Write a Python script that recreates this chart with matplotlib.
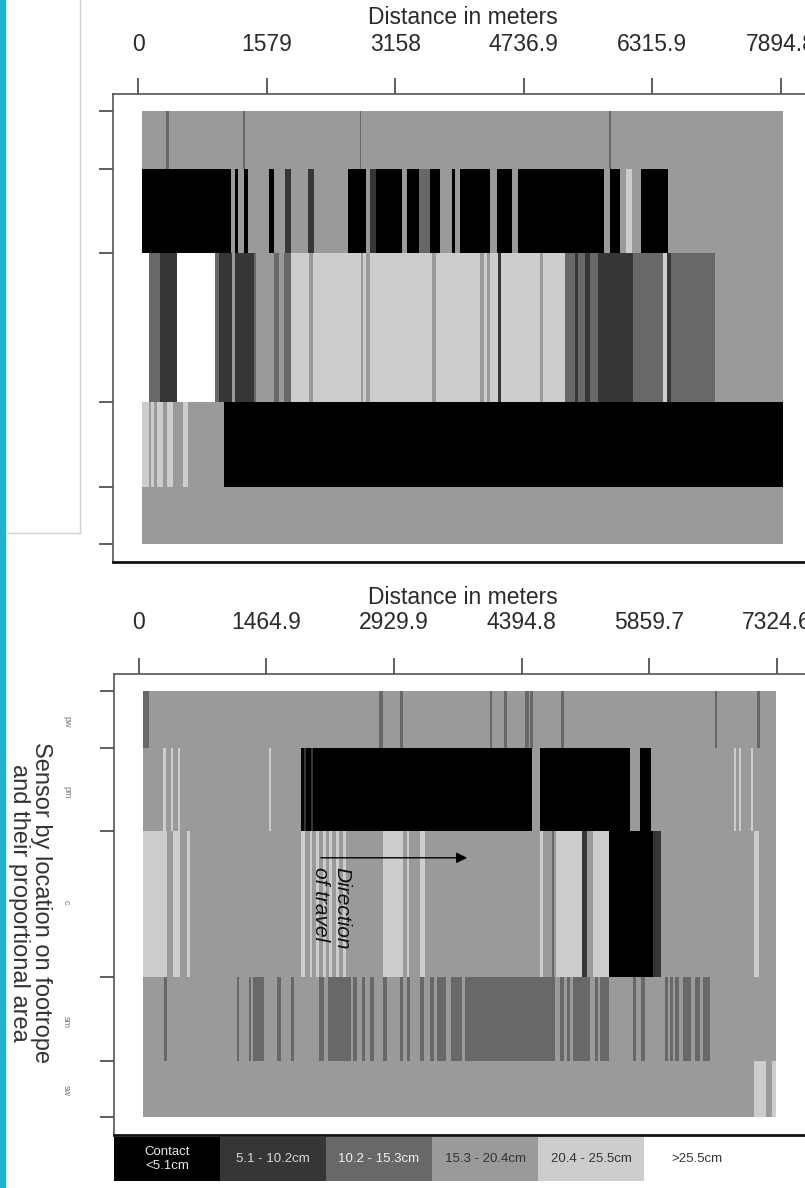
import matplotlib
matplotlib.use("Agg")
import matplotlib.pyplot as plt
from matplotlib.patches import Rectangle
from matplotlib.lines import Line2D

plt.rcParams['font.family'] = ['Liberation Sans', 'DejaVu Sans']

# gap classes (height of footrope sensor above seabed) and their grey shade
classes = ["Contact\n<5.1cm", "5.1 - 10.2cm", "10.2 - 15.3cm", "15.3 - 20.4cm", "20.4 - 25.5cm", ">25.5cm"]
shades = ["#000000", "#363636", "#686868", "#9a9a9a", "#cdcdcd", "#ffffff"]
class_text = ["#e8e8e8", "#d8d8d8", "#f0f0f0", "#333333", "#333333", "#333333"]

sensors = ["pw", "pm", "c", "sm", "sw"]
areas = [13.4, 19.4, 34.4, 19.6, 13.2]  # proportional area of each sensor

# tow 1 - x ticks
tow1_ticks = [0, 1579, 3158, 4736.9, 6315.9, 7894.8]
tow1_labels = ["0", "1579", "3158", "4736.9", "6315.9", "7894.8"]

# segments (start m, end m, class index), later ones drawn on top
tow1_pw = [(49, 7921, 3), (344, 381, 2), (1289, 1314, 2), (2726, 2738, 2), (5784, 5808, 2)]
tow1_pm = [(49, 1142, 0), (1142, 1191, 3), (1191, 1228, 0), (1228, 1302, 3), (1302, 1351, 0),
           (1351, 1609, 3), (1609, 1670, 0), (1670, 1805, 3), (1805, 1879, 1), (1879, 2088, 3),
           (2088, 2161, 1), (2161, 2579, 3), (2579, 2800, 0), (2800, 2849, 3), (2849, 2923, 1),
           (2923, 3242, 0), (3242, 3303, 3), (3303, 3451, 0), (3451, 3586, 2), (3586, 3709, 0),
           (3709, 3856, 3), (3856, 3893, 0), (3893, 3954, 3), (3954, 4323, 0), (4323, 4409, 3),
           (4409, 4593, 0), (4593, 4666, 3), (4666, 5722, 0), (5722, 5796, 3), (5796, 5919, 0),
           (5919, 5993, 3), (5993, 6066, 4), (6066, 6177, 3), (6177, 6508, 0), (6508, 7921, 3)]
tow1_c = [(49, 135, 5), (135, 270, 2), (270, 479, 1), (479, 946, 5), (946, 995, 2), (995, 1154, 1),
          (1154, 1191, 3), (1191, 1424, 1), (1424, 1449, 2), (1449, 1670, 3), (1670, 1731, 2),
          (1731, 1793, 3), (1793, 1879, 2), (1879, 2100, 4), (2100, 2149, 3), (2149, 5244, 4),
          (2738, 2763, 3), (2800, 2849, 3), (3610, 3659, 3), (4200, 4249, 3), (4286, 4323, 3),
          (4421, 4458, 1), (4937, 4973, 3), (5244, 5366, 2), (5366, 5403, 1), (5403, 5489, 2),
          (5489, 5551, 1), (5551, 5649, 2), (5649, 6079, 1), (6079, 6447, 2), (6447, 6496, 4),
          (6496, 6545, 1), (6545, 7086, 2), (7086, 7921, 3)]
tow1_sm = [(49, 135, 4), (135, 160, 3), (160, 196, 4), (196, 233, 3), (233, 307, 4), (307, 356, 3),
           (356, 430, 4), (430, 553, 3), (553, 614, 4), (614, 1056, 3), (1056, 7921, 0)]
tow1_sw = [(49, 7921, 3)]

# tow 2
tow2_ticks = [0, 1464.9, 2929.9, 4394.8, 5859.7, 7324.6]
tow2_labels = ["0", "1464.9", "2929.9", "4394.8", "5859.7", "7324.6"]

tow2_pw = [(50, 7311, 3), (50, 119, 2), (2758, 2804, 2), (2999, 3033, 2), (4030, 4053, 2),
           (4191, 4225, 2), (4432, 4478, 2), (4489, 4524, 2), (4845, 4879, 2), (6611, 6634, 2),
           (7093, 7127, 2)]
tow2_pm = [(50, 7311, 3), (280, 314, 4), (372, 395, 4), (452, 475, 4), (1496, 1519, 4),
           (1863, 4512, 0), (1897, 1920, 1), (1977, 2000, 1), (4604, 5637, 0), (5752, 5878, 0),
           (6829, 6852, 4), (6886, 6909, 4), (7024, 7047, 4)]
tow2_c = [(50, 7311, 3), (50, 326, 4), (395, 475, 4), (555, 590, 4), (1863, 1909, 4), (1966, 1989, 4),
          (2035, 2069, 4), (2115, 2150, 4), (2184, 2218, 4), (2264, 2299, 4), (2345, 2380, 4),
          (2804, 3033, 4), (3079, 3102, 4), (3228, 3285, 4), (4604, 4638, 4), (4742, 4765, 2),
          (4788, 5086, 4), (5086, 5144, 1), (5213, 5396, 4), (5396, 5901, 0), (5901, 5992, 1),
          (7059, 7116, 4)]
tow2_sm = [(50, 7311, 3), (291, 326, 2), (1129, 1152, 2), (1266, 1289, 2), (1312, 1438, 2),
           (1588, 1633, 2), (1748, 1782, 2), (2069, 2127, 2), (2172, 2437, 2), (2460, 2506, 2),
           (2563, 2598, 2), (2655, 2701, 2), (2804, 2850, 2), (2999, 3033, 2), (3079, 3113, 2),
           (3228, 3274, 2), (3342, 3388, 2), (3423, 3526, 2), (3583, 3709, 2), (3744, 4776, 2),
           (4834, 4879, 2), (4914, 4948, 2), (4983, 5178, 2), (5235, 5270, 2), (5293, 5396, 2),
           (5671, 5706, 2), (5763, 5809, 2), (6038, 6072, 2), (6095, 6130, 2), (6153, 6199, 2),
           (6244, 6336, 2), (6382, 6439, 2), (6474, 6554, 2)]
tow2_sw = [(50, 7311, 3), (7059, 7196, 4), (7265, 7311, 4)]

W, H = 805, 1188
fig = plt.figure(figsize=(W / 100, H / 100), dpi=100)
fig.patch.set_facecolor("white")


def px_rect(l, t, r, b):
    return [l / W, 1 - b / H, (r - l) / W, (b - t) / H]


bounds = [sum(areas[:i]) for i in range(len(areas) + 1)]
centers = [bounds[i] + areas[i] / 2 for i in range(len(areas))]


def strip_panel(rect, rows, ticks, labels, xlim, show_names, tick_pad, title_pad):
    ax = fig.add_axes(rect)
    for i, row in enumerate(rows):
        for s, e, c in row:
            ax.barh(centers[i], e - s, left=s, height=areas[i], color=shades[c],
                    linewidth=0, antialiased=False)
    ax.set_xlim(*xlim)
    ax.set_ylim(104.2, -3.9)
    ax.xaxis.tick_top()
    ax.set_xticks(ticks)
    ax.set_xticklabels(labels)
    ax.tick_params(axis='x', length=11.5, width=1.2, color='#444', pad=tick_pad,
                   labelsize=16.5, labelcolor='#2a2a2a')
    ax.xaxis.set_label_position('top')
    ax.set_xlabel("Distance in meters", fontsize=16.5, labelpad=title_pad, color='#2a2a2a')
    ax.set_yticks(bounds)
    ax.set_yticklabels([])
    ax.tick_params(axis='y', which='major', length=10, width=1.2, color='#444')
    if show_names:
        ax.set_yticks(centers, minor=True)
        ax.set_yticklabels(sensors, minor=True, rotation=270, fontsize=6.5, color='#777')
        ax.tick_params(axis='y', which='minor', length=0, pad=31)
    for side in ['top', 'left', 'right']:
        ax.spines[side].set_color('#555')
        ax.spines[side].set_linewidth(1.2)
    ax.spines['bottom'].set_color('#111')
    ax.spines['bottom'].set_linewidth(2)
    return ax


ax1 = strip_panel(px_rect(113, 94, 812, 562), [tow1_pw, tow1_pm, tow1_c, tow1_sm, tow1_sw],
                  tow1_ticks, tow1_labels, (-307, 8275), False, 16, 6.5)
ax2 = strip_panel(px_rect(114, 674, 812, 1135), [tow2_pw, tow2_pm, tow2_c, tow2_sm, tow2_sw],
                  tow2_ticks, tow2_labels, (-282, 7724), True, 17.5, 4.5)

# direction of travel
ax2.annotate("", xy=(3801, 39.2), xytext=(2058, 39.2),
             arrowprops=dict(arrowstyle='-|>', color='black', lw=1, mutation_scale=16))
fig.text(331 / W, 1 - 867 / H, "Direction\nof travel", rotation=270, ha='center', va='top',
         style='italic', fontsize=15, multialignment='left', color='#111')

fig.text(30 / W, 1 - 903 / H, "Sensor by location on footrope\nand their proportional area",
         rotation=270, ha='center', va='center', fontsize=17, color='#333', linespacing=1.05)

# legend strip
axl = fig.add_axes(px_rect(114, 1137, 750, 1181))
idx = list(range(len(classes)))
axl.bar(idx, [1] * len(idx), width=1, color=shades, linewidth=0, align='edge')
for i in idx:
    axl.text(i + 0.5, 0.5, classes[i], ha='center', va='center', fontsize=9.5,
             color=class_text[i], linespacing=1.3)
axl.set_xlim(0, len(idx))
axl.set_ylim(0, 1)
axl.axis('off')

# page furniture
fig.patches.append(Rectangle((0, 0), 5 / W, 1, transform=fig.transFigure, color='#19b4cf'))
fig.lines.append(Line2D([80 / W, 80 / W], [1, 1 - 533 / H], transform=fig.transFigure,
                        color='#d0d0d0', lw=1))
fig.lines.append(Line2D([8 / W, 80 / W], [1 - 533 / H, 1 - 533 / H], transform=fig.transFigure,
                        color='#d0d0d0', lw=1))

fig.savefig("out.png", dpi=100)
